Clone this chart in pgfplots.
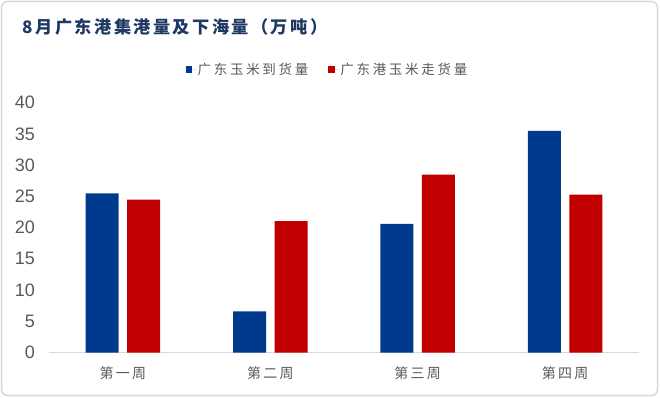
\documentclass[border=0pt]{standalone}
\usepackage{fontspec}
\setmainfont{Liberation Sans}
\newfontfamily\cjk{Noto Sans CJK SC}
\newfontfamily\cjktitle[LetterSpace=14]{Noto Sans CJK SC}
\newfontfamily\cjkleg[LetterSpace=20]{Noto Sans CJK SC}
\newfontfamily\cjktick[LetterSpace=16]{Noto Sans CJK SC}
\usepackage{pgfplots}
\pgfplotsset{compat=1.18}
\definecolor{barblue}{RGB}{0,58,140}
\definecolor{barred}{RGB}{192,0,0}
\definecolor{titleblue}{RGB}{31,56,100}
\definecolor{txtgray}{RGB}{89,89,89}
\definecolor{linegray}{RGB}{217,217,217}
\begin{document}
\begin{tikzpicture}[x=1pt,y=1pt]
\path[use as bounding box] (0,0) rectangle (660,397);
\draw[linegray, line width=1.5pt, rounded corners=6pt] (1.5,1.5) rectangle (657.5,395.5);
\node[anchor=west, inner sep=0pt, text=titleblue, font=\cjktitle\bfseries\fontsize{17.2}{20}\selectfont] at (22.5,370) {8月广东港集港量及下海量（万吨）};
\begin{axis}[
  at={(49.3pt,44.5pt)}, anchor=south west,
  scale only axis, width=589.4pt, height=249.8pt,
  xmin=-0.5, xmax=3.5, ymin=0, ymax=40,
  ybar=8.5pt, bar width=33pt,
  xtick={0,1,2,3},
  xticklabels={第一周,第二周,第三周,第四周},
  ytick={0,5,...,40},
  axis x line*=bottom, axis y line*=left,
  x axis line style={draw=linegray, line width=1.5pt, -},
  y axis line style={draw=none},
  tick style={draw=none},
  major tick length=0pt,
  /pgf/number format/assume math mode=true,
  yticklabel style={anchor=east, inner sep=0pt, xshift=-14.3pt, text=txtgray, font=\fontsize{18}{20}\selectfont},
  xticklabel style={anchor=base, inner sep=0pt, yshift=-25.5pt, text=txtgray, font=\cjktick\fontsize{14}{16}\selectfont},
  legend columns=-1,
  legend style={draw=none, fill=none, at={(0.472,1.1337)}, anchor=center,
    font=\cjkleg\fontsize{13.5}{15}\selectfont, text=txtgray,
    /tikz/every even column/.append style={column sep=18pt}},
  legend image code/.code={\fill[#1] (0pt,-3.25pt) rectangle (6.5pt,3.25pt); \path (0pt,0pt) -- (10pt,0pt);},
]
\addplot[fill=barblue, draw=none] coordinates {(0,25.5) (1,6.6) (2,20.6) (3,35.5)};
\addplot[fill=barred, draw=none] coordinates {(0,24.5) (1,21.05) (2,28.5) (3,25.3)};
\legend{广东玉米到货量,广东港玉米走货量}
\end{axis}
\end{tikzpicture}
\end{document}
